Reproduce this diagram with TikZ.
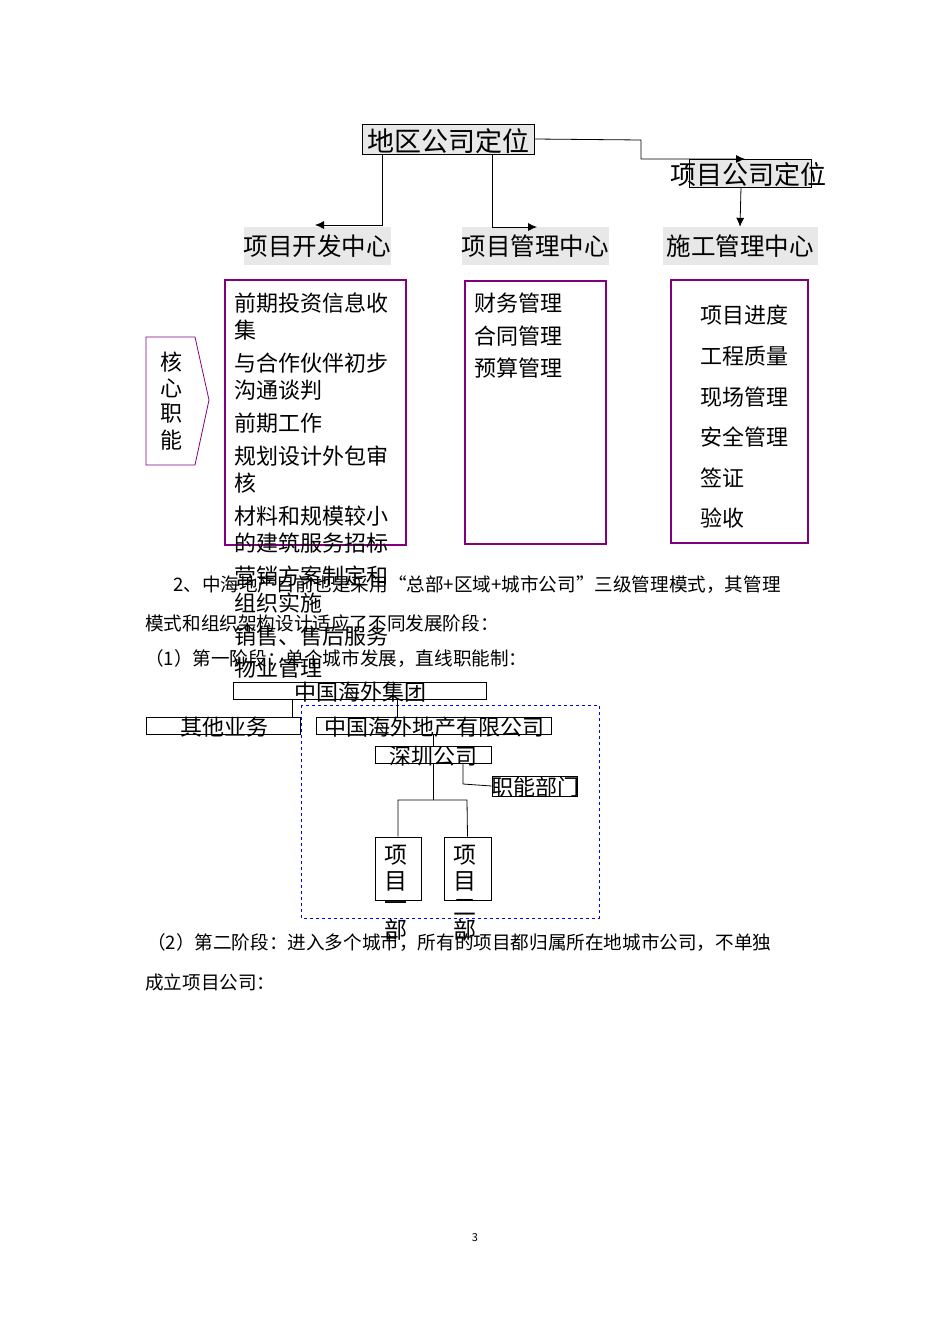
\documentclass[tikz,border=0pt]{standalone}
\usepackage{fontspec}
\setmainfont{Noto Sans CJK SC}
\usetikzlibrary{arrows.meta}
\definecolor{pur}{RGB}{128,0,128}
\definecolor{lg}{RGB}{232,232,232}
\begin{document}
\begin{tikzpicture}[x=1pt,y=-1pt,
  big/.style={font=\fontsize{24.5}{24.5}\selectfont},
  mid/.style={font=\fontsize{22}{22}\selectfont,anchor=west,inner sep=0},
  body/.style={font=\fontsize{18.6}{18.6}\selectfont,anchor=west,inner sep=0},
  org/.style={draw,thick,inner sep=0,font=\fontsize{22}{22}\selectfont},
  pbox/.style={draw=pur,line width=1.5pt},
  arr/.style={-{Latex[length=9pt,width=8pt]},thick}]
\fill[white] (0,0) rectangle (950,1344);
\useasboundingbox (0,0) rectangle (950,1344);
% top
\node[draw,thick,fill=lg,minimum width=172,minimum height=30,inner sep=0] (dq) at (448,139) {};
\node[font=\fontsize{27}{27}\selectfont,inner sep=0] at (448,141) {地区公司定位};
\node[draw,thick,fill=lg,minimum width=122,minimum height=28,inner sep=0] (xgbox) at (750,173) {};
\node[inner sep=0,font=\fontsize{26}{26}\selectfont] (xg) at (748,175) {项目公司定位};
\coordinate (c1) at (641,140);
\draw[arr] (dq.east) -- (c1) -- (641,159) -- (745,159);
\node[big,fill=lg,minimum width=145,minimum height=38,inner sep=0] (kf) at (317,246) {项目开发中心};
\node[big,fill=lg,minimum width=145,minimum height=38,inner sep=0] (gl) at (535,246) {项目管理中心};
\node[big,fill=lg,minimum width=155,minimum height=38,inner sep=0] (sg) at (740,246) {施工管理中心};
\draw[arr] (382,154) -- (382,225) -- (315,225);
\draw[arr] (492,154) -- (492,227) -- (537,227);
\draw[arr] (741,187) -- (sg.north);
% purple boxes
\draw[pbox] (225,280) rectangle (406,545);
\draw[pbox] (465,281) rectangle (606,544);
\draw[pbox] (671,280) rectangle (808,543);
\foreach \t/\y in {前期投资信息收/303,集/330,与合作伙伴初步/363,沟通谈判/390,前期工作/423,规划设计外包审/456,核/483,材料和规模较小/516,的建筑服务招标/543,营销方案制定和/576,组织实施/603,销售、售后服务/636,物业管理/668}
  \node[mid] at (234,\y) {\t};
\foreach \t/\y in {财务管理/303,合同管理/336,预算管理/368}
  \node[mid] at (474,\y) {\t};
\foreach \t/\y in {项目进度/315,工程质量/356,现场管理/397,安全管理/437,签证/478,验收/518}
  \node[mid] at (700,\y) {\t};
\draw[draw=pur,thick] (146,337) -- (195,337) -- (209,400) -- (195,465) -- (146,465) -- cycle;
\foreach \t/\y in {核/362,心/388,职/414,能/440}
  \node[font=\fontsize{22}{22}\selectfont,inner sep=0] at (171,\y) {\t};
% body text
\node[body] at (173,585) {2、中海地产目前也是采用“总部+区域+城市公司”三级管理模式，其管理};
\node[body] at (145,623) {模式和组织架构设计适应了不同发展阶段：};
\node[body] at (145,659) {（1）第一阶段：单个城市发展，直线职能制：};
% org chart
\draw[blue,dashed,thick] (301,705) rectangle (599,918);
\node[org,minimum width=253,minimum height=17] (jt) at (359.5,690.5) {};
\node[font=\fontsize{22}{22}\selectfont,inner sep=0] at (360,692) {中国海外集团};
\node[org,minimum width=154,minimum height=17] (qt) at (223,725.5) {};
\node[font=\fontsize{22}{22}\selectfont,inner sep=0] at (224,727) {其他业务};
\node[org,minimum width=235,minimum height=17] (dc) at (433.5,725.5) {};
\node[font=\fontsize{22}{22}\selectfont,inner sep=0] at (434,727) {中国海外地产有限公司};
\node[org,minimum width=116,minimum height=17] (sz) at (433,754.5) {};
\node[font=\fontsize{22}{22}\selectfont,inner sep=0] at (433,756) {深圳公司};
\node[org,minimum width=85,minimum height=20] (zn) at (534.5,786) {};
\node[font=\fontsize{22}{22}\selectfont,inner sep=0] at (535,787) {职能部门};
\node[draw,thick,minimum width=46,minimum height=63,inner sep=0] (p1) at (398,868.5) {};
\node[draw,thick,minimum width=47,minimum height=63,inner sep=0] (p2) at (467.5,868.5) {};
\draw[thick] (292,699) -- (292,717);
\draw[thick] (397,699) -- (397,717);
\draw[thick] (433,734) -- (433,746);
\draw[thick] (463,763) -- (463,784) -- (zn.west);
\draw[thick] (433,763) -- (433,800);
\draw[thick] (p1.north) -- (398,800) -- (467,800) -- (p2.north);
\foreach \x/\c in {396/一,465/二}{
  \foreach \t/\y in {项/855,目/881,\c/907,部/930}
    \node[font=\fontsize{23}{23}\selectfont,inner sep=0] at (\x,\y) {\t};
}
\node[body] at (147,943) {（2）第二阶段：进入多个城市，所有的项目都归属所在地城市公司，不单独};
\node[body] at (145,982) {成立项目公司：};
\node[font=\fontsize{11}{11}\selectfont] at (475,1238) {3};
\end{tikzpicture}
\end{document}
